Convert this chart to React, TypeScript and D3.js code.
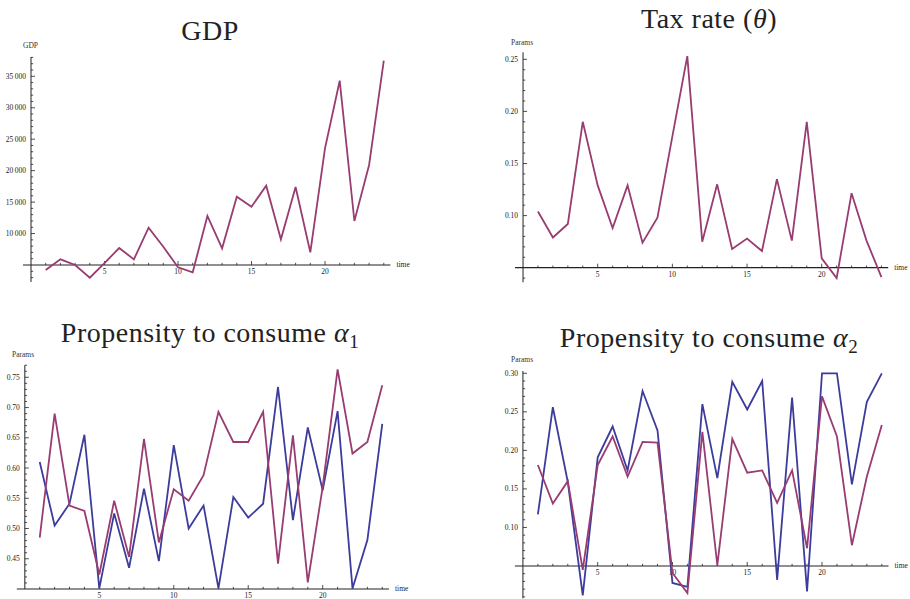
import React from "react";
import * as d3 from "d3";

// Time steps shared by every panel
const time = [1, 2, 3, 4, 5, 6, 7, 8, 9, 10, 11, 12, 13, 14, 15, 16, 17, 18, 19, 20, 21, 22, 23, 24];
const timeTicks = [5, 10, 15, 20];

// GDP
const gdp = [4200, 5900, 5000, 2980, 5300, 7700, 5900, 10930, 7900, 4630, 3840, 12790, 7650, 15860, 14270, 17610, 9090, 17400, 7020, 23550, 34300, 12000, 20900, 37480];
const gdpTicks = [10000, 15000, 20000, 25000, 30000, 35000];

// Tax rate (theta)
const taxRate = [0.104, 0.079, 0.092, 0.19, 0.129, 0.088, 0.129, 0.074, 0.098, 0.176, 0.253, 0.075, 0.13, 0.068, 0.078, 0.066, 0.135, 0.076, 0.19, 0.059, 0.04, 0.1215, 0.076, 0.041];
const taxTicks = [0.1, 0.15, 0.2, 0.25];

// Propensity to consume alpha_1 (two estimates)
const alpha1A = [0.61, 0.505, 0.541, 0.655, 0.401, 0.525, 0.435, 0.566, 0.446, 0.638, 0.5, 0.538, 0.401, 0.552, 0.518, 0.541, 0.734, 0.514, 0.667, 0.563, 0.694, 0.401, 0.481, 0.673];
const alpha1B = [0.485, 0.69, 0.538, 0.529, 0.424, 0.546, 0.453, 0.648, 0.477, 0.565, 0.546, 0.588, 0.693, 0.643, 0.643, 0.693, 0.442, 0.654, 0.411, 0.569, 0.763, 0.624, 0.643, 0.737];
const alpha1Ticks = [0.45, 0.5, 0.55, 0.6, 0.65, 0.7, 0.75];

// Propensity to consume alpha_2 (two estimates)
const alpha2A = [0.117, 0.256, 0.159, 0.012, 0.191, 0.231, 0.174, 0.277, 0.226, 0.028, 0.023, 0.26, 0.164, 0.289, 0.253, 0.29, 0.032, 0.2685, 0.017, 0.3, 0.3, 0.156, 0.263, 0.3];
const alpha2B = [0.181, 0.131, 0.16, 0.045, 0.181, 0.218, 0.166, 0.211, 0.21, 0.041, 0.015, 0.224, 0.051, 0.215, 0.171, 0.174, 0.132, 0.174, 0.073, 0.27, 0.218, 0.077, 0.166, 0.233];
const alpha2Ticks = [0.1, 0.15, 0.2, 0.25, 0.3];

const BLUE = "#3c3c9c";
const RED = "#983c72";
const SERIF = "'Liberation Serif', 'Times New Roman', serif";

type Series = { values: number[]; color: string };

type PanelSpec = {
  title: React.ReactNode;
  titleX: number;
  titleY: number;
  yName: string;
  yNameX: number;
  yNameY: number;
  xPx: [number, number]; // pixel positions of t=5 and t=20
  yDom: [number, number];
  yPx: [number, number];
  yExtent: [number, number];
  yOrigin: number;
  yTicks: number[];
  yMinor: number;
  fmt: (v: number) => string;
  series: Series[];
};

const fmtThousands = (v: number) => {
  const s = String(Math.round(v));
  return s.length > 4 ? s.slice(0, s.length - 3) + "\u2009" + s.slice(-3) : s;
};
const fmt2 = (v: number) => v.toFixed(2);

function Panel({ p }: { p: PanelSpec }) {
  const x = d3.scaleLinear().domain([5, 20]).range(p.xPx);
  const y = d3.scaleLinear().domain(p.yDom).range(p.yPx);
  const axisX = x(0);
  const axisY = y(p.yOrigin);
  const xEnd = x(24.45);
  const line = d3
    .line<number>()
    .x((_, i) => x(time[i]))
    .y((v) => y(v));

  const minor = d3
    .range(Math.ceil(p.yExtent[0] / p.yMinor - 1e-6), Math.floor(p.yExtent[1] / p.yMinor + 1e-6) + 1)
    .map((k) => k * p.yMinor)
    .filter((v) => Math.abs(v - p.yOrigin) > 1e-9);

  return (
    <g>
      <text
        x={p.titleX}
        y={p.titleY}
        textAnchor="middle"
        fontFamily={SERIF}
        fontSize={28}
        letterSpacing={0.5}
        fill="#222"
      >
        {p.title}
      </text>
      <text x={p.yNameX} y={p.yNameY} fontFamily={SERIF} fontSize={7.5} fill="#333">
        {p.yName}
      </text>

      {/* y axis */}
      <line x1={axisX} x2={axisX} y1={y(p.yExtent[0])} y2={y(p.yExtent[1])} stroke="#222" strokeWidth={1} />
      {minor.map((v) => {
        const major = p.yTicks.some((t) => Math.abs(t - v) < 1e-9);
        return (
          <line
            key={"ym" + v}
            x1={axisX}
            x2={axisX + (major ? 4 : 2.2)}
            y1={y(v)}
            y2={y(v)}
            stroke="#222"
            strokeWidth={0.8}
          />
        );
      })}
      {p.yTicks.map((v) => (
        <text
          key={"yl" + v}
          x={axisX - 5}
          y={y(v)}
          dy="0.33em"
          textAnchor="end"
          fontFamily={SERIF}
          fontSize={7.5}
          fill="#222"
        >
          {p.fmt(v)}
        </text>
      ))}

      {/* x axis */}
      <line x1={axisX - 8} x2={xEnd} y1={axisY} y2={axisY} stroke="#222" strokeWidth={1.2} />
      {time.map((t) => {
        const major = timeTicks.includes(t);
        return (
          <line
            key={"xm" + t}
            x1={x(t)}
            x2={x(t)}
            y1={axisY}
            y2={axisY - (major ? 4 : 2.2)}
            stroke="#222"
            strokeWidth={0.8}
          />
        );
      })}
      {timeTicks.map((t) => (
        <text
          key={"xl" + t}
          x={x(t)}
          y={axisY + 9}
          textAnchor="middle"
          fontFamily={SERIF}
          fontSize={7.5}
          fill="#222"
        >
          {t}
        </text>
      ))}
      <text x={xEnd + 6} y={axisY} dy="0.33em" fontFamily={SERIF} fontSize={7.5} fill="#222">
        time
      </text>

      {p.series.map((s, i) => (
        <path
          key={"s" + i}
          d={line(s.values) ?? ""}
          fill="none"
          stroke={s.color}
          strokeWidth={1.8}
          strokeLinejoin="miter"
        />
      ))}
    </g>
  );
}

const panels: PanelSpec[] = [
  {
    title: "GDP",
    titleX: 210,
    titleY: 40,
    yName: "GDP",
    yNameX: 23,
    yNameY: 48,
    xPx: [104.5, 325],
    yDom: [5000, 35000],
    yPx: [265, 76.3],
    yExtent: [2300, 38070],
    yOrigin: 5000,
    yTicks: gdpTicks,
    yMinor: 1000,
    fmt: fmtThousands,
    series: [{ values: gdp, color: RED }],
  },
  {
    title: (
      <>
        Tax rate (<tspan fontStyle="italic">θ</tspan>)
      </>
    ),
    titleX: 709,
    titleY: 28,
    yName: "Params",
    yNameX: 511,
    yNameY: 45,
    xPx: [597.7, 821.7],
    yDom: [0.05, 0.25],
    yPx: [267.7, 59.3],
    yExtent: [0.036, 0.2567],
    yOrigin: 0.05,
    yTicks: taxTicks,
    yMinor: 0.01,
    fmt: fmt2,
    series: [{ values: taxRate, color: RED }],
  },
  {
    title: (
      <>
        Propensity to consume <tspan fontStyle="italic">α</tspan>
        <tspan fontSize={19} dy={6}>1</tspan>
      </>
    ),
    titleX: 210,
    titleY: 342,
    yName: "Params",
    yNameX: 12,
    yNameY: 357,
    xPx: [99.3, 322.7],
    yDom: [0.4, 0.75],
    yPx: [589, 377.3],
    yExtent: [0.4, 0.77],
    yOrigin: 0.4,
    yTicks: alpha1Ticks,
    yMinor: 0.01,
    fmt: fmt2,
    series: [
      { values: alpha1A, color: BLUE },
      { values: alpha1B, color: RED },
    ],
  },
  {
    title: (
      <>
        Propensity to consume <tspan fontStyle="italic">α</tspan>
        <tspan fontSize={19} dy={6}>2</tspan>
      </>
    ),
    titleX: 709,
    titleY: 347,
    yName: "Params",
    yNameX: 511,
    yNameY: 362,
    xPx: [597.7, 822],
    yDom: [0.05, 0.3],
    yPx: [566, 373.3],
    yExtent: [0.008, 0.303],
    yOrigin: 0.05,
    yTicks: alpha2Ticks,
    yMinor: 0.01,
    fmt: fmt2,
    series: [
      { values: alpha2A, color: BLUE },
      { values: alpha2B, color: RED },
    ],
  },
];

export default function App() {
  return (
    <svg
      width={910}
      height={599}
      viewBox="0 0 910 599"
      style={{ position: "absolute", left: 0, top: 0, background: "#fff" }}
    >
      <rect width={910} height={599} fill="#fff" />
      {panels.map((p, i) => (
        <Panel key={i} p={p} />
      ))}
    </svg>
  );
}
